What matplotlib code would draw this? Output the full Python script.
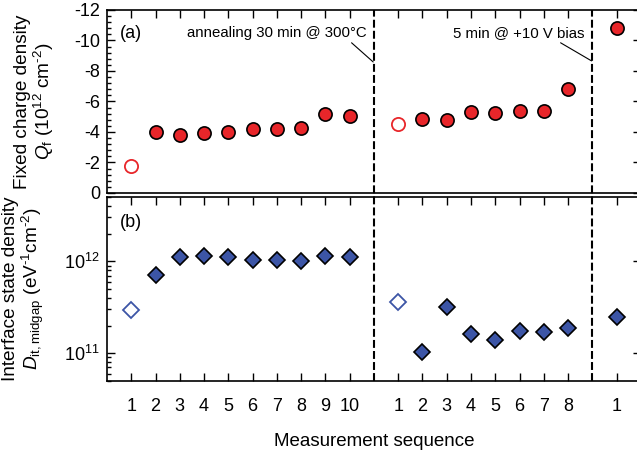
import matplotlib
matplotlib.use('Agg')
import matplotlib.pyplot as plt
import matplotlib.transforms as mtransforms
from matplotlib.ticker import MultipleLocator, LogLocator, NullFormatter, FixedLocator
plt.rcParams['font.family'] = ['Liberation Sans', 'DejaVu Sans']
plt.rcParams['mathtext.fontset'] = 'custom'
plt.rcParams['mathtext.rm'] = 'Liberation Sans'
plt.rcParams['mathtext.it'] = 'Liberation Sans:italic'
plt.rcParams['axes.unicode_minus'] = False

# positions on the x axis (three measurement groups separated by treatments)
pos = [1, 2, 3, 4, 5, 6, 7, 8, 9, 10, 12, 13, 14, 15, 16, 17, 18, 19, 21]
labels = ['1', '2', '3', '4', '5', '6', '7', '8', '9', '10',
          '1', '2', '3', '4', '5', '6', '7', '8', '1']
# fixed charge density Qf (1e12 cm^-2)
qf = [-1.77, -4.02, -3.82, -3.91, -4.0, -4.17, -4.17, -4.26, -5.16, -5.05,
      -4.52, -4.83, -4.79, -5.31, -5.25, -5.38, -5.38, -6.8, -10.84]
# interface state density Dit (eV^-1 cm^-2)
dit = [2.95e11, 7.1e11, 1.1e12, 1.155e12, 1.11e12, 1.04e12, 1.04e12, 1.02e12, 1.155e12, 1.1e12,
       3.57e11, 1.03e11, 3.15e11, 1.63e11, 1.38e11, 1.75e11, 1.7e11, 1.87e11, 2.5e11]
# first point of the first two groups is drawn open
is_open = [True] + [False]*9 + [True] + [False]*8
treat = [11, 20]

red = '#e8262a'
blue = '#3c55a6'

fig = plt.figure(figsize=(6.37, 4.54), dpi=100)
ax1 = fig.add_axes([0.168, 0.575, 0.838, 0.403])
ax2 = fig.add_axes([0.168, 0.161, 0.838, 0.405])

for p, q, d, o in zip(pos, qf, dit, is_open):
    if o:
        ax1.plot(p, q, 'o', ms=9.5, mfc='white', mec=red, mew=1.3)
        ax2.plot(p, d, 'D', ms=8.5, mfc='white', mec=blue, mew=1.3)
    else:
        ax1.plot(p, q, 'o', ms=9.5, mfc=red, mec='black', mew=1.2)
        ax2.plot(p, d, 'D', ms=8.5, mfc=blue, mec='black', mew=1.2)

ax1.set_xlim(0, 22)
ax1.set_ylim(0, -12)
ax1.yaxis.set_major_locator(MultipleLocator(2))
ax1.yaxis.set_minor_locator(MultipleLocator(0.4))
ax1.set_xticks(pos)
ax1.tick_params(axis='x', which='both', direction='in', top=True, bottom=False,
                labelbottom=False, length=6, width=1)
ax1.tick_params(axis='y', which='major', direction='in', left=True, right=True,
                length=6, width=1, labelsize=13, pad=5)
ax1.tick_params(axis='y', which='minor', direction='in', left=True, right=False,
                length=3, width=1)
ax1.set_ylabel('Fixed charge density\n$Q_\\mathrm{f}$ (10$^{12}$ cm$^{\\text{-}2}$)', fontsize=13.7,
               labelpad=13, linespacing=1.05)

ax2.set_xlim(0, 22)
ax2.set_yscale('log')
ax2.set_ylim(5e10, 5e12)
ax2.yaxis.set_major_locator(FixedLocator([1e11, 1e12]))
ax2.yaxis.set_minor_locator(LogLocator(base=10, subs=range(2, 10)))
ax2.yaxis.set_minor_formatter(NullFormatter())
ax2.set_xticks(pos)
ax2.set_xticklabels(labels)
ax2.tick_params(axis='x', which='both', direction='in', top=True, bottom=True,
                length=6, width=1, labelsize=13, pad=12)
ax2.tick_params(axis='y', which='major', direction='in', left=True, right=True,
                length=6, width=1, labelsize=13, pad=5)
ax2.tick_params(axis='y', which='minor', direction='in', left=True, right=False,
                length=3, width=1)
ax2.set_ylabel('Interface state density\n$D_\\mathrm{it,midgap}$ (eV$^{\\text{-}1}$cm$^{\\text{-}2}$)',
               fontsize=13.7, labelpad=13, linespacing=1.05)
ax2.set_xlabel('Measurement sequence', fontsize=13.5, labelpad=13)

for ax in (ax1, ax2):
    for s in ax.spines.values():
        s.set_linewidth(1.2)

# dashed treatment lines through both panels
tr = mtransforms.blended_transform_factory(ax2.transData, fig.transFigure)
for t in treat:
    ax2.plot([t, t], [0.161, 0.978], transform=tr, color='black', lw=1.5,
             dashes=(3.8, 1.5), clip_on=False)

ax1.text(0.024, 0.874, '(a)', transform=ax1.transAxes, fontsize=13, va='center')
ax2.text(0.024, 0.86, '(b)', transform=ax2.transAxes, fontsize=13, va='center')

ax1.annotate('annealing 30 min @ 300°C', xy=(10.97, -8.59), xytext=(10.69, -10.49),
             ha='right', va='center', fontsize=10.8,
             arrowprops=dict(arrowstyle='-', color='black', lw=0.8, shrinkA=0, shrinkB=0,
                             relpos=(0.9, 0)))
ax1.annotate('5 min @ +10 V bias', xy=(19.97, -8.66), xytext=(19.69, -10.49),
             ha='right', va='center', fontsize=10.8,
             arrowprops=dict(arrowstyle='-', color='black', lw=0.8, shrinkA=0, shrinkB=0,
                             relpos=(0.78, 0)))

fig.savefig('out.png', dpi=100)
